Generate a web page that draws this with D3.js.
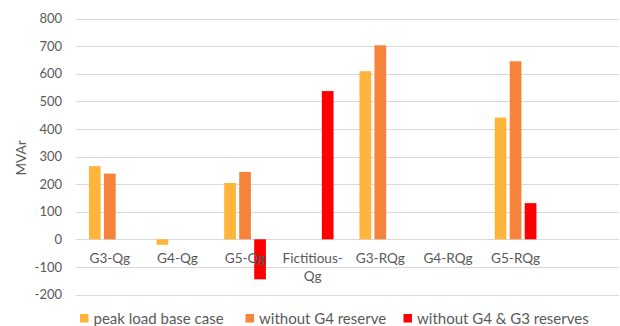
<!DOCTYPE html>
<html>
<head>
<meta charset="utf-8">
<script src="https://cdn.jsdelivr.net/npm/d3@7"></script>
<style>
  html, body { margin: 0; padding: 0; background: #fff; }
  svg { display: block; }
  text { font-family: Lato, "Open Sans", sans-serif; fill: #595959; }
</style>
</head>
<body>
<svg id="chart" width="620" height="326"></svg>
<script>
// Reactive power per generator quantity (MVAr)
const categories = ["G3-Qg", "G4-Qg", "G5-Qg", "Fictitious-Qg", "G3-RQg", "G4-RQg", "G5-RQg"];
const seriesNames = ["peak load base case", "without G4 reserve", "without G4 & G3 reserves"];
const peakLoadBase = [265, -20, 204, null, 609, null, 441];
const withoutG4 = [238, null, 244, null, 703, null, 645];
const withoutG4G3 = [null, null, -145, 537, null, null, 131];
const yTicks = [-200, -100, 0, 100, 200, 300, 400, 500, 600, 700, 800];
const colors = ["#FFB43C", "#F5843A", "#FF0000"];

const seriesValues = [peakLoadBase, withoutG4, withoutG4G3];

const svg = d3.select("#chart");
const plotLeft = 76, plotRight = 617, plotTop = 18.5, plotBottom = 294.5;

// one spare slot on the right keeps the category spacing
const x0 = d3.scaleBand().domain([...categories, ""]).range([plotLeft, plotRight]).paddingInner(0).paddingOuter(0);
const bw = x0.bandwidth();
const x1 = d3.scaleBand().domain(seriesNames)
  .range([bw / 2 - 22.5, bw / 2 + 22.5]).paddingInner(0.22).paddingOuter(0.11);
const y = d3.scaleLinear().domain([-200, 800]).range([plotBottom, plotTop]);

// horizontal gridlines
svg.append("g")
  .selectAll("line")
  .data(yTicks)
  .join("line")
  .attr("x1", plotLeft).attr("x2", 619)
  .attr("y1", d => Math.round(y(d)) + 0.5).attr("y2", d => Math.round(y(d)) + 0.5)
  .attr("stroke", "#D9D9D9").attr("stroke-width", 1);

// y axis labels (plain hyphen for negatives)
const yAxis = d3.axisLeft(y).tickValues(yTicks).tickFormat(d => String(d)).tickSize(0).tickPadding(14);
const gy = svg.append("g").attr("transform", `translate(${plotLeft},0)`).call(yAxis);
gy.select(".domain").remove();
gy.selectAll("text").style("font-size", "13px").attr("fill", "#595959");

// bars
const rows = [];
categories.forEach((c, i) => {
  seriesNames.forEach((s, j) => {
    const v = seriesValues[j][i];
    if (v !== null) rows.push({ c, s, v, j });
  });
});
svg.append("g")
  .selectAll("rect")
  .data(rows)
  .join("rect")
  .attr("x", d => x0(d.c) + x1(d.s))
  .attr("width", x1.bandwidth())
  .attr("y", d => y(Math.max(0, d.v)))
  .attr("height", d => Math.abs(y(d.v) - y(0)))
  .attr("fill", d => colors[d.j]);

// category labels, wrapping after the hyphen when too wide
const xAxis = d3.axisBottom(x0).tickValues(categories).tickSize(0).tickPadding(14.5);
const gx = svg.append("g").attr("transform", `translate(0,${y(0)})`).call(xAxis);
gx.select(".domain").remove();
gx.selectAll("text").style("font-size", "13.6px").attr("fill", "#595959")
  .each(function (d) {
    const t = d3.select(this);
    if (this.getComputedTextLength() > bw - 6 && d.includes("-")) {
      const k = d.indexOf("-") + 1;
      const yAttr = t.attr("y"), dy = t.attr("dy");
      t.text(null);
      t.append("tspan").attr("x", 0).attr("y", yAttr).attr("dy", dy).text(d.slice(0, k));
      t.append("tspan").attr("x", 0).attr("y", yAttr).attr("dy", "2.03em").text(d.slice(k));
    }
  });

// y axis title
svg.append("text")
  .attr("transform", "translate(21,158) rotate(-90)")
  .attr("text-anchor", "middle")
  .attr("dy", "0.35em")
  .style("font-size", "13.6px")
  .text("MVAr");

// legend
const legendX = [80, 245.5, 403.5];
const lg = svg.append("g").selectAll("g").data(seriesNames).join("g")
  .attr("transform", (d, i) => `translate(${legendX[i]},314)`);
lg.append("rect").attr("width", 8.5).attr("height", 8.5).attr("fill", (d, i) => colors[i]);
lg.append("text").attr("x", 13.5).attr("y", 4.5).attr("dy", "0.35em")
  .style("font-size", "15px").text(d => d);
</script>
</body>
</html>
